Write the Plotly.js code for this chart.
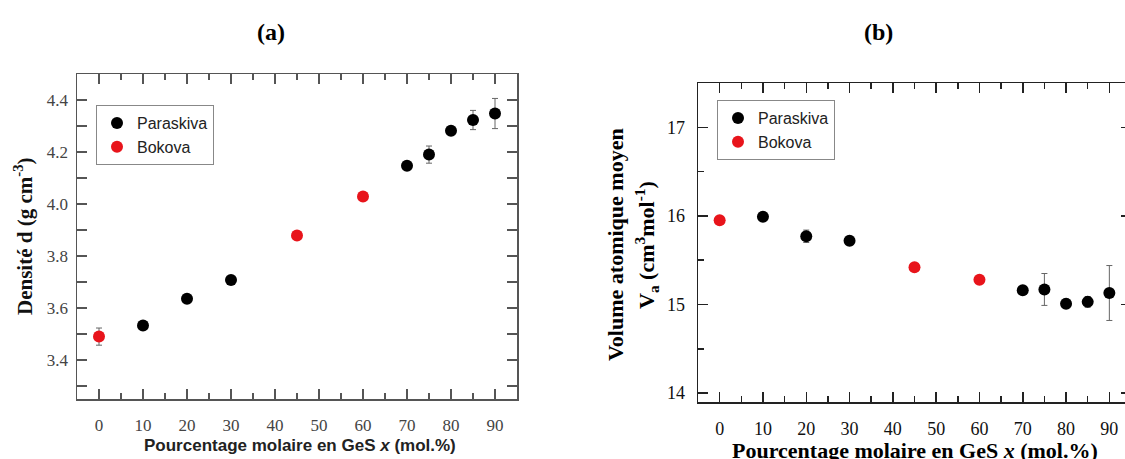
<!DOCTYPE html>
<html>
<head>
<meta charset="utf-8">
<script src="https://cdn.plot.ly/plotly-3.0.1.min.js"></script>
<style>
html,body{margin:0;padding:0;overflow:hidden;background:#fff;}
#chart{width:1140px;height:459px;}
</style>
</head>
<body>
<div id="chart"></div>
<script>
// ---- Data ----
const xParaskiva = [10, 20, 30, 70, 75, 80, 85, 90];
const xBokova = [0, 45, 60];

// (a) Densité
const densParaskiva = [3.533, 3.636, 3.708, 4.147, 4.190, 4.282, 4.323, 4.348];
const densParaskivaErr = [0.010, 0.010, 0.010, 0.010, 0.033, 0.010, 0.037, 0.058];
const densBokova = [3.490, 3.879, 4.029];
const densBokovaErr = [0.033, 0.010, 0.010];

// (b) Volume atomique moyen
const volParaskiva = [15.99, 15.77, 15.72, 15.16, 15.17, 15.01, 15.03, 15.13];
const volParaskivaErr = [0.05, 0.07, 0.05, 0.03, 0.18, 0.05, 0.06, 0.31];
const volBokova = [15.95, 15.42, 15.28];
const volBokovaErr = [0.02, 0.02, 0.02];

const seriesNames = ["Paraskiva", "Bokova"];

// ---- Styles ----
const BLACK = "#000000";
const RED = "#e8141b";
const serif = "Liberation Serif, Times New Roman, serif";
const sans = "Liberation Sans, Arial, sans-serif";

function errSpec(arr){
  return {type:"data", array:arr, visible:true, color:"#666", thickness:1, width:3};
}

const traces = [
  {x:xParaskiva, y:densParaskiva, error_y:errSpec(densParaskivaErr), mode:"markers", type:"scatter",
   name:seriesNames[0], marker:{color:BLACK, size:12}, xaxis:"x", yaxis:"y", legend:"legend"},
  {x:xBokova, y:densBokova, error_y:errSpec(densBokovaErr), mode:"markers", type:"scatter",
   name:seriesNames[1], marker:{color:RED, size:12}, xaxis:"x", yaxis:"y", legend:"legend"},
  {x:xParaskiva, y:volParaskiva, error_y:errSpec(volParaskivaErr), mode:"markers", type:"scatter",
   name:seriesNames[0], marker:{color:BLACK, size:12}, xaxis:"x2", yaxis:"y2", legend:"legend2"},
  {x:xBokova, y:volBokova, error_y:errSpec(volBokovaErr), mode:"markers", type:"scatter",
   name:seriesNames[1], marker:{color:RED, size:12}, xaxis:"x2", yaxis:"y2", legend:"legend2"}
];

const W = 1140, H = 459;
function px(x){return x/W;}
function py(y){return 1 - y/H;}

function axis(opts){
  const c = opts.color;
  return Object.assign({
    showgrid:false, zeroline:false, showline:true, linecolor:c, linewidth:1.5, mirror:"allticks",
    ticks:"inside", ticklen:10, tickwidth:1.5, tickcolor:c, tickmode:"linear",
    minor:{dtick:opts.minorDtick, ticks:"inside", ticklen:opts.minorLen, tickwidth:1.5, tickcolor:c, showgrid:false},
    tickfont:{family:serif, size:opts.fontSize, color:opts.fontColor}, fixedrange:true
  }, opts.extra);
}

const layout = {
  width:W, height:H, margin:{l:0, r:0, t:0, b:0},
  paper_bgcolor:"#ffffff", plot_bgcolor:"#ffffff",
  showlegend:true,
  xaxis: axis({color:"#555", minorDtick:5, minorLen:6, fontSize:17, fontColor:"#444",
    extra:{domain:[px(77), px(517)], range:[-5, 95], tick0:0, dtick:10, ticklabelstandoff:10}}),
  yaxis: axis({color:"#555", minorDtick:0.1, minorLen:10, fontSize:17, fontColor:"#444",
    extra:{domain:[py(399), py(74)], range:[3.25, 4.5], tick0:3.4, dtick:0.2, tickformat:".1f", ticklabelstandoff:4}}),
  xaxis2: axis({color:"#222", minorDtick:5, minorLen:6, fontSize:18, fontColor:"#111",
    extra:{domain:[px(698), px(1131)], range:[-5, 95], tick0:0, dtick:10, anchor:"y2", ticklabelstandoff:10}}),
  yaxis2: axis({color:"#222", minorDtick:0.5, minorLen:6, fontSize:18, fontColor:"#111",
    extra:{domain:[py(402), py(83)], range:[13.9, 17.5], tick0:14, dtick:1, anchor:"x2", ticklabelstandoff:8}}),
  legend:{x:px(96), y:py(105), xanchor:"left", yanchor:"top", bgcolor:"#fff",
    bordercolor:"#888", borderwidth:1, font:{family:sans, size:16, color:"#222"},
    tracegroupgap:0, itemwidth:30},
  legend2:{x:px(717), y:py(100), xanchor:"left", yanchor:"top", bgcolor:"#fff",
    bordercolor:"#888", borderwidth:1, font:{family:sans, size:16, color:"#222"},
    tracegroupgap:0, itemwidth:30},
  annotations:[
    {text:"<b>(a)</b>", xref:"paper", yref:"paper", x:px(271), y:py(32), xanchor:"center", yanchor:"middle",
     showarrow:false, font:{family:serif, size:24, color:"#000"}},
    {text:"<b>(b)</b>", xref:"paper", yref:"paper", x:px(878), y:py(32), xanchor:"center", yanchor:"middle",
     showarrow:false, font:{family:serif, size:24, color:"#000"}},
    {text:"<b>Pourcentage molaire en GeS <i>x</i> (mol.%)</b>", xref:"paper", yref:"paper",
     x:px(300), y:py(445), xanchor:"center", yanchor:"middle", showarrow:false,
     font:{family:sans, size:17, color:"#222"}},
    {text:"<b>Densité d (g cm<sup>-3</sup>)</b>", xref:"paper", yref:"paper",
     x:px(23), y:py(237), xanchor:"center", yanchor:"middle", showarrow:false, textangle:-90,
     font:{family:serif, size:21, color:"#111"}},
    {text:"<b>Pourcentage molaire en GeS <i>x</i> (mol.%)</b>", xref:"paper", yref:"paper",
     x:px(915), y:py(450), xanchor:"center", yanchor:"middle", showarrow:false,
     font:{family:serif, size:22, color:"#000"}},
    {text:"<b>Volume atomique moyen</b>", xref:"paper", yref:"paper",
     x:px(616), y:py(245), xanchor:"center", yanchor:"middle", showarrow:false, textangle:-90,
     font:{family:serif, size:22, color:"#000"}},
    {text:"<b>V<sub>a</sub> (cm<sup>3</sup>mol<sup>-1</sup>)</b>", xref:"paper", yref:"paper",
     x:px(647), y:py(245), xanchor:"center", yanchor:"middle", showarrow:false, textangle:-90,
     font:{family:serif, size:22, color:"#000"}}
  ]
};

Plotly.newPlot("chart", traces, layout, {displayModeBar:false, staticPlot:true});
</script>
</body>
</html>
